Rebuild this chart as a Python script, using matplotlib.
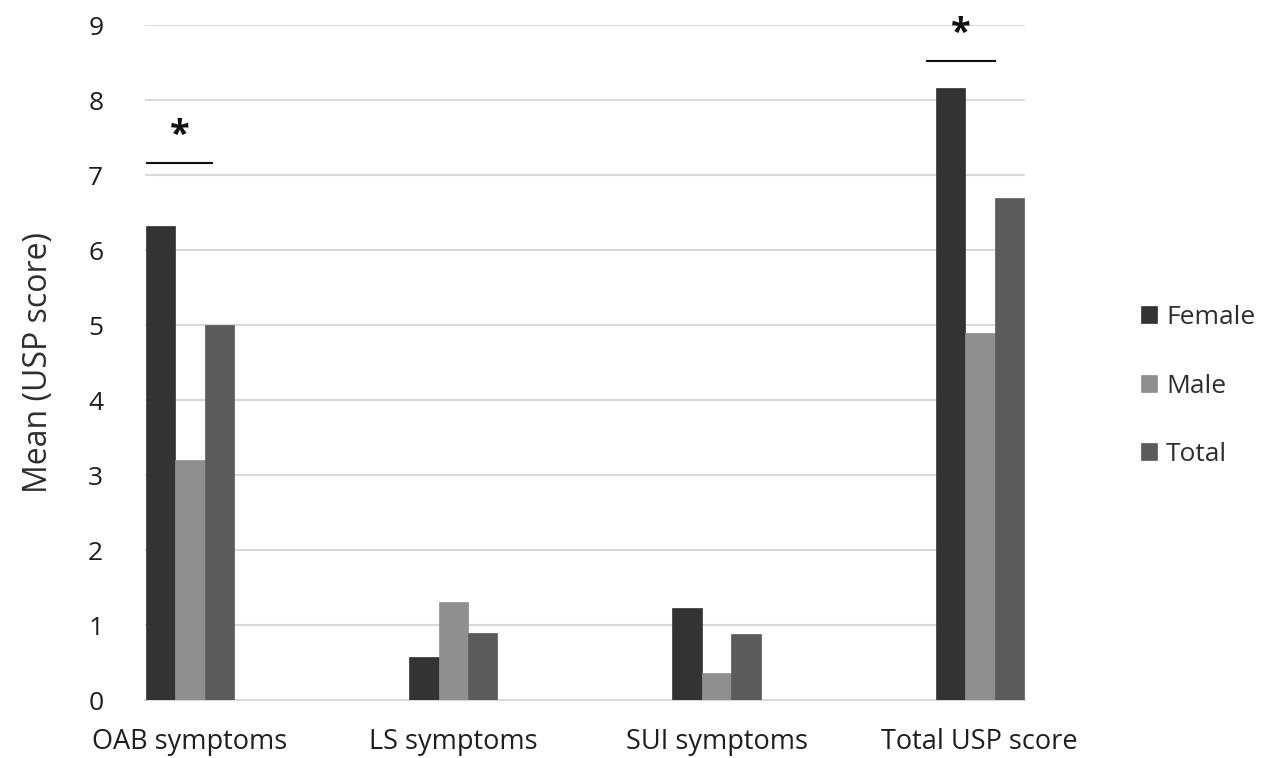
import matplotlib.pyplot as plt
import numpy as np

CATEGORIES = ["OAB symptoms", "LS symptoms", "SUI symptoms", "Total USP score"]
FEMALE = [6.32, 0.57, 1.23, 8.16]
MALE = [3.20, 1.31, 0.36, 4.90]
TOTAL = [5.00, 0.89, 0.88, 6.70]
SERIES = ["Female", "Male", "Total"]
COLORS = ["#333333", "#8f8f8f", "#5b5b5b"]
Y_TICKS = list(range(0, 10))

# significance markers: category index, bracket height
SIG_CATS = [0, 3]
SIG_HEIGHTS = [7.16, 8.52]

plt.rcParams["font.family"] = ["Open Sans", "DejaVu Sans"]

fig = plt.figure(figsize=(12.66, 7.58), dpi=100)
ax = fig.add_axes([0.1145, 0.0765, 0.695, 0.8905])

x = np.arange(len(CATEGORIES))
width = 0.112
for i, (vals, name, color) in enumerate(zip([FEMALE, MALE, TOTAL], SERIES, COLORS)):
    ax.bar(x + (i - 1) * width, vals, width, color=color, label=name, zorder=3,
           edgecolor=color, linewidth=0.5)

ax.set_xlim(-0.171, 3.171)
ax.set_ylim(0, 9)
ax.set_yticks(Y_TICKS)
ax.set_xticks(x)
ax.set_xticklabels(CATEGORIES, fontsize=19.5, color="#1e1e1e")
ax.tick_params(axis="y", labelsize=19, length=0, pad=30, colors="#1e1e1e")
ax.tick_params(axis="x", length=0, pad=20)
ax.grid(axis="y", color="#d9d9d9", linewidth=1.5, zorder=0)
for s in ["top", "right", "left"]:
    ax.spines[s].set_visible(False)
ax.spines["bottom"].set_color("#d9d9d9")
ax.spines["bottom"].set_linewidth(1.5)
ax.set_ylabel("Mean (USP score)", fontsize=23, color="#2e2e2e", labelpad=24)

# bracket extents relative to category centre (hand drawn in the original)
bracket_offsets = [(-0.163, 0.084), (-0.2, 0.057)]
for idx, h, (lo, hi) in zip(SIG_CATS, SIG_HEIGHTS, bracket_offsets):
    ax.plot([idx + lo, idx + hi], [h, h], color="#111111", linewidth=1.5,
            clip_on=False, zorder=4)
    ax.text(idx + (lo + hi) / 2, h + 0.12, "*", ha="center", va="bottom",
            fontsize=26, fontweight="bold", color="#111111")

leg = ax.legend(loc="center left", bbox_to_anchor=(1.105, 0.465), frameon=False,
                fontsize=19, handlelength=0.6, handleheight=0.6, handletextpad=0.35,
                labelspacing=1.65)
for t in leg.get_texts():
    t.set_color("#2e2e2e")

fig.savefig("out.png", dpi=100)
